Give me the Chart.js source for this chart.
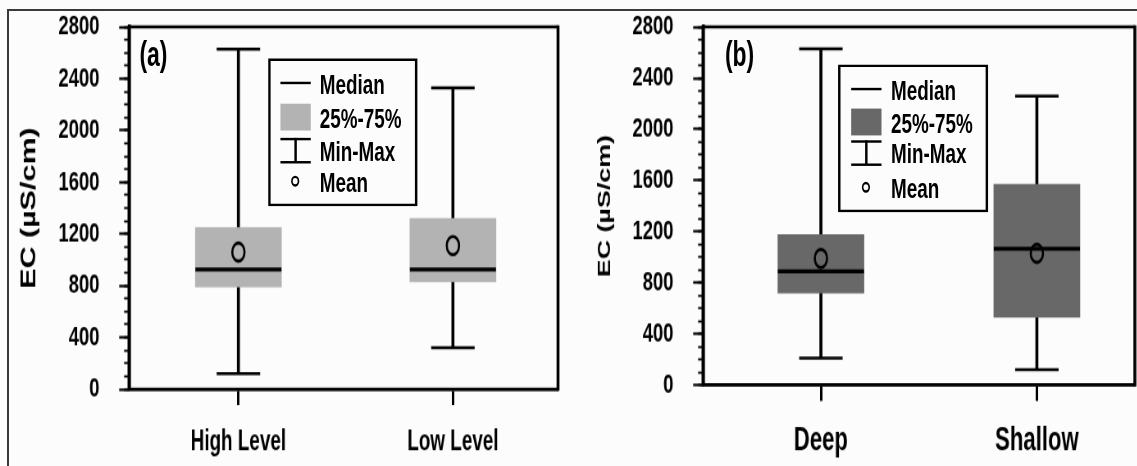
<!DOCTYPE html>
<html lang="en">
<head>
<meta charset="UTF-8">
<title>EC box plots</title>
<script src="https://cdn.jsdelivr.net/npm/chart.js"></script>
<style>
  body { margin: 0; background: #fcfcfc; }
  #page { position: relative; width: 1137px; height: 466px; overflow: hidden; }
  #frame { position: absolute; left: 7px; top: 9px; right: -10px; bottom: -10px;
           border-top: 2px solid #3a3a3a; border-left: 2px solid #3a3a3a; }
  /* the source figure is squeezed sideways and stretched up, so draw wide and scale */
  #stretch { position: absolute; left: 0; top: 0; width: 1387px; height: 382px;
             transform: scale(0.82, 1.22); transform-origin: 0 0; }
  canvas { position: absolute; top: 0; }
  .lg { position: absolute; box-sizing: border-box;
        border-style: solid; border-color: #000; border-width: 2.5px 3.6px; }
  .sym { position: absolute; box-sizing: border-box; }
  .txt { position: absolute; height: 24px; line-height: 24px; white-space: nowrap; color: #000;
         font: bold 23px 'Liberation Sans', Arial, sans-serif; }
  .tag { position: absolute; height: 28px; line-height: 28px; color: #000;
         font: bold 28px 'Liberation Sans', Arial, sans-serif; }
</style>
</head>
<body>
<div id="page">
  <div id="frame"></div>
  <div id="stretch">
    <canvas id="chartA" width="693" height="382" style="left:0px"></canvas>
    <canvas id="chartB" width="694" height="382" style="left:693px"></canvas>
    <div class="tag" style="left:170px; top:28.5px">(a)</div>
    <div class="tag" style="left:884px; top:28.5px">(b)</div>
  </div>
</div>

<script>
    // panel (a): water level
    const groupsA = ['High Level', 'Low Level']
    const minA    = [120, 320]
    const q1A     = [790, 830]
    const medA    = [925, 925]
    const q3A     = [1250, 1320]
    const maxA    = [2630, 2330]
    const meanA   = [1060, 1110]

    // panel (b): well depth
    const groupsB = ['Deep', 'Shallow']
    const minB    = [210, 120]
    const q1B     = [720, 530]
    const medB    = [890, 1065]
    const q3B     = [1175, 1570]
    const maxB    = [2630, 2260]
    const meanB   = [990, 1030]

    const yMin = 0, yMax = 2800, yStep = 400, yMinorStep = 100
    const yTitle = 'EC (µS/cm)'
    const legendLabels = ['Median', '25%-75%', 'Min-Max', 'Mean']

    const FONT = "'Liberation Sans', Arial, sans-serif"

    // plot frame around the chart area (thicker sideways because of the squeeze)
    const plotFrame = {
        id: 'plotFrame',
        afterDraw(chart) {
            const { ctx, chartArea: a } = chart
            ctx.save()
            ctx.strokeStyle = '#000'
            ctx.lineWidth = 2.5
            ctx.beginPath()
            ctx.moveTo(a.left, a.top); ctx.lineTo(a.right, a.top)
            ctx.moveTo(a.left, a.bottom); ctx.lineTo(a.right, a.bottom)
            ctx.stroke()
            ctx.lineWidth = 3.6
            ctx.beginPath()
            ctx.moveTo(a.left, a.top - 1.25); ctx.lineTo(a.left, a.bottom + 1.25)
            ctx.moveTo(a.right, a.top - 1.25); ctx.lineTo(a.right, a.bottom + 1.25)
            ctx.stroke()
            ctx.restore()
        }
    }

    const noPad = sc => { sc.paddingTop = 0; sc.paddingBottom = 0; sc.paddingLeft = 0; sc.paddingRight = 0 }

    function boxChart(id, labels, s, cfg) {
        const xy = arr => arr.map((v, i) => ({ x: i, y: v }))
        const pts = (data, style, radius, width, order) => ({
            type: 'line', data: xy(data), showLine: false, pointStyle: style,
            pointRadius: radius, pointHoverRadius: radius, pointBorderWidth: width,
            pointBorderColor: '#000', pointBackgroundColor: 'rgba(0,0,0,0)', order: order
        })
        return new Chart(document.getElementById(id), {
            type: 'bar',
            data: {
                datasets: [
                    { data: labels.map((_, i) => ({ x: i, y: [s.min[i], s.max[i]] })), backgroundColor: '#000',
                      barThickness: 3, grouped: false, order: 5 },
                    { data: labels.map((_, i) => ({ x: i, y: [s.q1[i], s.q3[i]] })), backgroundColor: cfg.boxColor,
                      barThickness: 105, grouped: false, order: 4 },
                    pts(s.min, 'line', 26.5, 2.5, 3),
                    pts(s.max, 'line', 26.5, 2.5, 3),
                    pts(s.med, 'line', 52.5, 3.3, 2),
                    pts(s.mean, 'circle', 7.5, 2.6, 1)
                ]
            },
            options: {
                responsive: false,
                animation: false,
                layout: { autoPadding: false, padding: { top: 22.1, right: cfg.right, left: 0, bottom: 0 } },
                plugins: { legend: { display: false }, tooltip: { enabled: false } },
                scales: {
                    x: {
                        type: 'linear', offset: false, min: cfg.xMin, max: cfg.xMax,
                        afterBuildTicks: sc => { sc.ticks = labels.map((_, i) => ({ value: i })) },
                        ticks: { color: '#000', padding: cfg.xPad,
                                 callback: v => labels[v] ?? '',
                                 font: { family: FONT, weight: 'bold', size: cfg.xFont } },
                        grid: { drawOnChartArea: false, offset: false, tickLength: 13, tickWidth: 3, tickColor: '#000' },
                        border: { display: true, color: '#000', width: 2.5 },
                        afterFit: sc => { sc.height = cfg.xHeight; noPad(sc) }
                    },
                    y: {
                        position: 'left', weight: 1, min: yMin, max: yMax,
                        ticks: { stepSize: yStep, color: '#000', padding: 24,
                                 callback: v => String(v),
                                 font: { family: FONT, weight: 'bold', size: 22.5 } },
                        grid: { drawOnChartArea: false, tickLength: 12, tickWidth: 2.1, tickColor: '#000' },
                        border: { display: true, color: '#000', width: 3.6 },
                        title: { display: true, text: yTitle, color: '#000', padding: { top: cfg.titlePad },
                                 font: { family: FONT, weight: 'bold', size: cfg.titleSize } },
                        afterFit: sc => { sc.width = cfg.yWidth; noPad(sc) }
                    },
                    yMinor: {
                        position: 'left', weight: 0, min: yMin, max: yMax,
                        ticks: { stepSize: yMinorStep, display: false },
                        grid: { drawOnChartArea: false, tickLength: 6, tickWidth: 1.8, tickColor: '#000' },
                        border: { display: false },
                        afterFit: sc => { sc.width = 0; noPad(sc) }
                    }
                }
            },
            plugins: [plotFrame]
        })
    }

    boxChart('chartA', groupsA,
        { min: minA, q1: q1A, med: medA, q3: q3A, max: maxA, mean: meanA },
        { boxColor: '#b3b3b3', right: 12.5, yWidth: 157.3, xHeight: 63, xMin: -0.51, xMax: 1.49,
          xFont: 23, xPad: 17, titleSize: 25, titlePad: 21.6 })

    boxChart('chartB', groupsB,
        { min: minB, q1: q1B, med: medB, q3: q3B, max: maxB, mean: meanB },
        { boxColor: '#686868', right: 3, yWidth: 164.3, xHeight: 66.4, xMin: -0.546, xMax: 1.454,
          xFont: 27, xPad: 17, titleSize: 22, titlePad: 31.8 })

    // legends (html inside the scaled layer)
    function addLegend(L) {
        const root = document.getElementById('stretch')
        const add = (cls, css, text) => {
            const d = document.createElement('div')
            d.className = cls
            d.style.cssText = css
            if (text) d.textContent = text
            root.appendChild(d)
        }
        add('lg', `left:${L.x}px; top:${L.y}px; width:${L.w}px; height:${L.h}px`)
        const sx = L.symX, sw = L.symW
        add('sym', `left:${sx}px; top:${L.rows[0] - 1.25}px; width:${sw}px; height:2.5px; background:#000`)
        add('sym', `left:${sx}px; top:${L.rows[1] - 11}px; width:${sw}px; height:22px; background:${L.color}`)
        add('sym', `left:${sx}px; top:${L.rows[2] - 10.5}px; width:${sw}px; height:21px; border-top:2.3px solid #000; border-bottom:2.3px solid #000`)
        add('sym', `left:${sx + sw / 2 - 1.5}px; top:${L.rows[2] - 10}px; width:3px; height:20px; background:#000`)
        add('sym', `left:${sx + sw / 2 - 5}px; top:${L.rows[3] - 4.5}px; width:10px; height:9px; border:2.3px solid #000; border-radius:50%`)
        legendLabels.forEach((t, i) => add('txt', `left:${L.textX}px; top:${L.rows[i] - 12}px`, t))
    }

    addLegend({ x: 327, y: 47.5, w: 182, h: 121.5, symX: 341.5, symW: 37.8, textX: 390,
                rows: [68, 95.9, 123, 148.4], color: '#b3b3b3' })
    addLegend({ x: 1022, y: 52.5, w: 183, h: 121.5, symX: 1038, symW: 36.6, textX: 1086.6,
                rows: [73, 100, 125.4, 153.3], color: '#686868' })
</script>
</body>
</html>
